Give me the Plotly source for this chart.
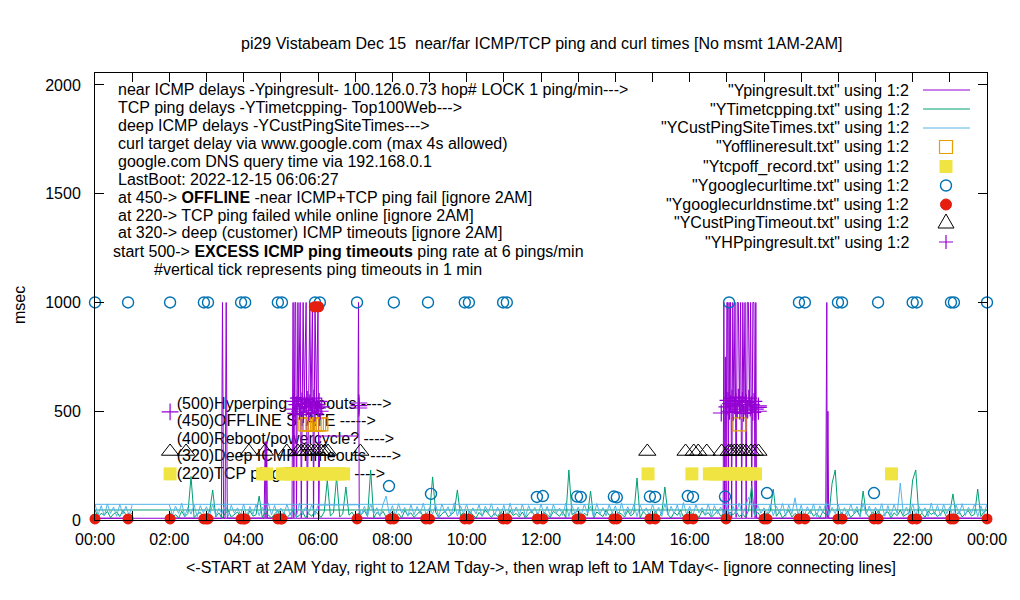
import plotly.graph_objects as go

# --- axis ticks ---
TICK_HOURS = [0, 1, 2, 3, 4, 5, 6, 7, 8, 9, 10, 11, 12, 13, 14, 15, 16, 17, 18, 19, 20, 21, 22, 23, 24]
TICK_TEXT = ["00:00", "", "02:00", "", "04:00", "", "06:00", "", "08:00", "", "10:00", "", "12:00",
             "", "14:00", "", "16:00", "", "18:00", "", "20:00", "", "22:00", "", "00:00"]
Y_TICKS = [0, 500, 1000, 1500, 2000]

# sample clock for the 5-minute series: 2AM Yday -> midnight, then wrap to 0-1AM Tday
SAMPLE_MIN = list(range(120, 1441, 5)) + list(range(0, 61, 5))

# deep ICMP delays (YCustPingSiteTimes), one row per hour, None = no data (reboot)
CUST_MS = (
    [70, 22, 64, 30, 77, 18, 58, 27, 69, 15, 66, 33] +
    [61, 21, 74, 19, 53, 28, 79, 17, 68, 31, 56, 24] +
    [73, 16, 62, 26, 71, 20, 59, 34, 76, 23, 67, 18] +
    [55, 29, 72, 21, 64, 14, 78, 25, 60, 33, 70, 22] +
    [68, None, None, None, None, None, None, None, None, None, None, None] +
    [None, 70, 23, 63, 19, 74, 28, 57, 16, 72, 110, 26] +
    [66, 20, 75, 31, 58, 17, 71, 24, 62, 29, 77, 19] +
    [57, 27, 69, 15, 74, 32, 61, 22, 79, 18, 65, 30] +
    [72, 19, 56, 28, 70, 16, 63, 34, 75, 21, 59, 25] +
    [68, 17, 77, 29, 60, 23, 73, 15, 66, 31, 58, 20] +
    [74, 26, 62, 18, 71, 33, 55, 21, 78, 16, 67, 28] +
    [59, 22, 73, 30, 64, 14, 76, 27, 57, 19, 70, 32] +
    [65, 18, 79, 24, 61, 29, 72, 16, 68, 35, 56, 21] +
    [71, 30, 58, 17, 75, 23, 63, 28, 69, 15, 80, 26] +
    [62, 19, 70, 33, 57, 21, 74, 18, 66, 27, 60, 24] +
    [73, 16, 64, 29, 78, 22, 59, 104, 71, 18, 67, 31] +
    [56, 25, 72, 20, 63, 32, 76, 17, 69, 28, 102, 23] +
    [68, 18, 61, 27, 74, 15, 65, 34, 79, 21, 58, 29] +
    [70, 23, 57, 19, 73, 31, 62, 16, 77, 26, 64, 20] +
    [59, 28, 75, 17, 66, 22, 71, 30, 170, 24, 60, 18] +
    [74, 21, 63, 33, 56, 16, 78, 25, 67, 19, 72, 29] +
    [61, 17, 69, 26, 75, 20, 58, 31, 73, 15, 65, 27] +
    [72] +
    [72, 24, 66, 19, 74, 30, 60, 17, 71, 27, 63, 21, 68]
)

# TCP ping delays (YTimetcpping)
TCP_MS = (
    [38, 12, 25, 9, 41, 15, 30, 200, 11, 27, 35, 10] +
    [22, 40, 138, 14, 33, 8, 29, 44, 13, 26, 37, 16] +
    [31, 10, 42, 18, 24, 110, 12, 36, 20, 9, 28, 43] +
    [15, 34, 11, 27, 45, 13, 21, 39, 10, 30, 17, 41] +
    [26, 12, 37, 184, 19, 33, 198, 14, 28, 152, 22, 36] +
    [11, 30, 25, 43, 16, 230, 9, 35, 21, 40, 13, 27] +
    [38, 14, 29, 10, 44, 22, 33, 12, 26, 41, 17, 31] +
    [20, 198, 36, 11, 28, 42, 15, 24, 39, 138, 20, 34] +
    [13, 40, 23, 9, 35, 18, 45, 27, 12, 32, 16, 38] +
    [26, 10, 43, 21, 30, 14, 37, 8, 29, 41, 19, 33] +
    [15, 36, 24, 12, 40, 28, 17, 39, 11, 230, 25, 34] +
    [42, 13, 31, 20, 133, 9, 37, 26, 16, 44, 22, 30] +
    [11, 35, 27, 14, 43, 19, 32, 193, 10, 38, 24, 29] +
    [17, 41, 12, 33, 152, 25, 9, 36, 21, 45, 14, 30] +
    [39, 16, 28, 11, 42, 23, 34, 13, 26, 44, 18, 31] +
    [10, 37, 24, 40, 15, 29, 12, 43, 156, 20, 35, 13] +
    [32, 22, 41, 142, 17, 38, 9, 27, 44, 14, 30, 19] +
    [36, 12, 25, 43, 18, 31, 10, 39, 23, 28, 170, 230] +
    [15, 34, 21, 40, 11, 27, 44, 16, 133, 30, 13, 37] +
    [24, 42, 14, 29, 38, 10, 33, 20, 45, 17, 26, 35] +
    [184, 230, 19, 31, 12, 41, 25, 36, 15, 28, 43, 11] +
    [33, 120, 22, 39, 14, 30, 42, 18, 27, 142, 16, 37] +
    [46] +
    [46, 14, 31, 22, 40, 11, 28, 37, 16, 43, 25, 19, 34]
)

# near ICMP delays (Ypingresult), 1000 = timeout
PING_H = [2.0, 2.5, 3.0, 3.40, 3.43, 3.46, 3.50, 3.53, 3.56, 4.0,
          4.55, 4.58, 4.60, 4.62, 4.64, 5.0, 5.30, 5.33, 5.35, 5.38,
          5.40, 5.42, 5.46, 5.48, 5.52, 5.55, 5.60, 5.63, 5.68, 5.71,
          5.76, 5.78, 5.81, 5.85, 5.88, 5.92, 5.96, 6.00, 6.02, 6.05,
          7.07, 7.09, 7.11, 7.5, 8.0, 9.0, 10.0, 11.0, 12.0, 13.0,
          14.0, 15.0, 16.0, 16.90, 16.92, 16.94, 16.96, 16.98, 17.00, 17.02,
          17.04, 17.06, 17.08, 17.10, 17.13, 17.16, 17.19, 17.22, 17.25, 17.28,
          17.31, 17.34, 17.37, 17.40, 17.43, 17.46, 17.49, 17.52, 17.55, 17.58,
          17.61, 17.64, 17.67, 17.70, 17.73, 17.76, 17.78, 17.80, 18.0, 19.0,
          19.66, 19.69, 19.70, 19.72, 19.74, 20.0, 21.0, 22.0, 23.0, 24.0,
          0.0, 0.5, 1.0]
PING_MS = [9, 8, 10, 8, 1000, 9, 8, 1000, 9, 8,
           9, 360, 9, 360, 9, 8, 9, 1000, 10, 1000,
           1000, 12, 1000, 520, 1000, 10, 1000, 540, 1000, 10,
           1000, 1000, 500, 1000, 12, 1000, 520, 1000, 10, 386,
           386, 1000, 10, 8, 9, 8, 9, 8, 9, 8,
           9, 8, 9, 9, 1000, 10, 750, 10, 1000, 1000,
           15, 1000, 520, 1000, 10, 1000, 530, 1000, 12, 1000,
           1000, 500, 1000, 10, 1000, 540, 1000, 10, 1000, 1000,
           520, 1000, 12, 1000, 1000, 10, 1000, 9, 8, 9,
           9, 1000, 10, 500, 9, 8, 9, 8, 9, 8,
           8, 9, 8]

# offline state (Yofflineresult)
OFFLINE_H = [5.66, 5.72, 5.78, 5.85, 5.91, 5.97, 6.03, 6.09, 17.34]
OFFLINE_MS = [440, 440, 440, 440, 440, 440, 440, 440, 440]

# TCP ping failed while online (Ytcpoff_record)
TCPOFF_H = [2.02, 4.51, 4.62, 5.04, 5.15, 5.26, 5.37, 5.48, 5.59, 5.70, 5.81, 5.92, 6.03, 6.14,
            6.25, 6.36, 6.47, 6.58, 6.69, 14.88, 16.06, 16.53, 16.64, 16.75, 16.86, 16.97,
            17.08, 17.19, 17.30, 17.41, 17.52, 17.63, 17.77, 21.43]
TCPOFF_MS = [212] * len(TCPOFF_H)

# curl delay via www.google.com (Ygooglecurltime)
CURL_H = [0.0, 0.89, 2.02, 2.93, 3.04, 3.93, 4.04, 4.92, 5.03, 5.92, 6.05, 7.05, 7.91, 8.04,
          8.96, 9.04, 9.95, 10.06, 10.98, 11.08, 11.89, 12.05, 12.97, 13.07, 13.96, 14.04,
          14.93, 15.07, 15.95, 16.09, 16.95, 17.06, 18.08, 18.94, 19.10, 19.99, 20.10, 20.96,
          21.07, 22.00, 22.11, 23.03, 23.11, 24.0]
CURL_MS = [1000, 1000, 1000, 1000, 1000, 1000, 1000, 1000, 1000, 1000, 1000, 1000, 156, 1000,
           1000, 120, 1000, 1000, 1000, 1000, 106, 110, 108, 106, 108, 104, 108, 106, 110, 106,
           108, 1000, 124, 1000, 1000, 1000, 1000, 124, 1000, 1000, 1000, 1000, 1000, 1000]

# google.com DNS query time (Ygooglecurldnstime)
DNS_H = [0.0, 0.89, 2.02, 2.93, 3.0, 3.04, 3.93, 4.0, 4.04, 4.92, 5.0, 5.03, 5.90, 5.96, 6.02,
         7.05, 7.95, 8.04, 8.90, 9.0, 9.95, 10.06, 10.98, 11.08, 11.90, 12.05, 12.97, 13.07,
         13.96, 14.04, 14.93, 15.07, 15.95, 16.09, 16.98, 18.0, 18.08, 18.94, 19.10, 19.99,
         20.10, 20.96, 21.07, 22.00, 22.11, 23.03, 23.11, 24.0]
DNS_MS = [5, 5, 5, 5, 5, 5, 5, 5, 5, 5, 5, 5, 980, 980, 980,
          5, 5, 5, 5, 5, 5, 5, 5, 5, 5, 5, 5, 5,
          5, 5, 5, 5, 5, 5, 5, 5, 5, 5, 5, 5,
          5, 5, 5, 5, 5, 5, 5, 5]

# deep (customer) ICMP timeouts (YCustPingTimeout)
CUSTTO_H = [2.02, 2.45, 4.14, 4.57, 5.16, 5.46, 5.55, 5.64, 5.73, 5.82, 5.91, 6.0, 6.09, 6.18, 6.27,
            7.14, 14.86, 15.89, 16.11, 16.23, 16.46, 16.86, 17.05, 17.12, 17.20, 17.28, 17.36,
            17.44, 17.52, 17.65, 17.75, 17.85]
CUSTTO_MS = [315] * len(CUSTTO_H)

# hyperping timeouts (YHPpingresult)
HP_H = [2.02, 5.33, 5.36, 5.40, 5.43, 5.47, 5.50, 5.54, 5.57, 5.61, 5.64, 5.68, 5.71, 5.75, 5.78,
        5.82, 5.85, 5.89, 5.92, 5.96, 5.99, 6.03, 6.06, 6.10, 7.10, 7.10, 7.10,
        16.85, 17.00, 17.03, 17.07, 17.10, 17.14, 17.17, 17.21, 17.24, 17.28, 17.31, 17.35,
        17.38, 17.42, 17.45, 17.49, 17.52, 17.56, 17.59, 17.63, 17.66, 17.70, 17.73, 17.77,
        17.85, 17.85, 17.85]
HP_MS = [497, 510, 545, 490, 530, 560, 500, 520, 548, 485, 535, 515, 555, 495, 540,
         505, 525, 560, 490, 530, 515, 545, 500, 520, 515, 526, 538,
         492, 520, 550, 500, 535, 560, 495, 525, 545, 510, 565, 500, 530,
         550, 490, 520, 540, 505, 560, 515, 530, 495, 545, 510, 525,
         500, 518, 535]

# labels inside the plot
MARK_LABELS = ["(500)Hyperping Timeouts ---->", "(450)OFFLINE STATE ----->",
               "(400)Reboot/powercycle? ---->", "(320)Deep ICMP Timeouts ---->",
               "(220)TCP ping Timeouts ---->"]
MARK_LABEL_MS = [530, 452, 368, 288, 207]

INFO_LINES = ["near ICMP delays -Ypingresult- 100.126.0.73 hop# LOCK 1 ping/min--->",
              "TCP ping delays -YTimetcpping- Top100Web--->",
              "deep ICMP delays -YCustPingSiteTimes--->",
              "curl target delay via www.google.com (max 4s allowed)",
              "google.com DNS query time via 192.168.0.1",
              "LastBoot: 2022-12-15 06:06:27",
              "at 450-> <b>OFFLINE</b> -near ICMP+TCP ping fail [ignore 2AM]",
              "at 220-> TCP ping failed while online [ignore 2AM]",
              "at 320-> deep (customer) ICMP timeouts [ignore 2AM]",
              "start 500-> <b>EXCESS ICMP ping timeouts</b> ping rate at 6 pings/min",
              "#vertical tick represents ping timeouts in 1 min"]

KEY_NAMES = ['"Ypingresult.txt" using 1:2', '"YTimetcpping.txt" using 1:2',
             '"YCustPingSiteTimes.txt" using 1:2', '"Yofflineresult.txt" using 1:2',
             '"Ytcpoff_record.txt" using 1:2', '"Ygooglecurltime.txt" using 1:2',
             '"Ygooglecurldnstime.txt" using 1:2', '"YCustPingTimeout.txt" using 1:2',
             '"YHPpingresult.txt" using 1:2']

PURPLE = '#9400D3'
GREEN = '#009E73'
CYAN = '#56B4E9'
ORANGE = '#E69F00'
YELLOW = '#F0E442'
BLUE = '#0072B2'
RED = '#E51E10'
FONT = 'Liberation Sans, Arial, sans-serif'
FS = 16

sample_h = [m / 60 for m in SAMPLE_MIN]

fig = go.Figure()

# in-plot labels sit behind the markers
fig.add_trace(go.Scatter(x=[2.2] * len(MARK_LABELS), y=MARK_LABEL_MS, mode='text', text=MARK_LABELS,
                         textposition='middle right', textfont=dict(size=FS, color='black', family=FONT)))

fig.add_trace(go.Scatter(x=PING_H, y=PING_MS, mode='lines', line=dict(color=PURPLE, width=1)))
fig.add_trace(go.Scatter(x=sample_h, y=TCP_MS, mode='lines', line=dict(color=GREEN, width=1), connectgaps=True))
fig.add_trace(go.Scatter(x=sample_h, y=CUST_MS, mode='lines', line=dict(color=CYAN, width=1), connectgaps=True))
fig.add_trace(go.Scatter(x=OFFLINE_H, y=OFFLINE_MS, mode='markers', cliponaxis=False,
                         marker=dict(symbol='square-open', size=13, color=ORANGE, line=dict(width=1.2))))
fig.add_trace(go.Scatter(x=TCPOFF_H, y=TCPOFF_MS, mode='markers', cliponaxis=False,
                         marker=dict(symbol='square', size=13, color=YELLOW, line=dict(width=0))))
fig.add_trace(go.Scatter(x=CURL_H, y=CURL_MS, mode='markers', cliponaxis=False,
                         marker=dict(symbol='circle-open', size=11, color=BLUE, line=dict(width=1.4))))
fig.add_trace(go.Scatter(x=DNS_H, y=DNS_MS, mode='markers', cliponaxis=False,
                         marker=dict(symbol='circle', size=11, color=RED, line=dict(width=0))))
fig.add_trace(go.Scatter(x=CUSTTO_H, y=CUSTTO_MS, mode='markers', cliponaxis=False,
                         marker=dict(symbol='triangle-up-open', size=15, color='black', line=dict(width=1))))
fig.add_trace(go.Scatter(x=HP_H, y=HP_MS, mode='markers', cliponaxis=False,
                         marker=dict(symbol='cross-thin-open', size=12, color=PURPLE, line=dict(width=1.2))))

annotations = []
# title / axis titles
annotations.append(dict(text='pi29 Vistabeam Dec 15\u00a0 near/far ICMP/TCP ping and curl times [No msmt 1AM-2AM]',
                        x=0.5, y=(520 - 44) / 447, xref='paper', yref='paper', yanchor='middle',
                        showarrow=False, font=dict(size=FS, family=FONT, color='black')))
annotations.append(dict(text='&lt;-START at 2AM Yday, right to 12AM Tday->, then wrap left to 1AM Tday&lt;- [ignore connecting lines]',
                        x=0.5, y=(520 - 567) / 447, xref='paper', yref='paper', yanchor='middle',
                        showarrow=False, font=dict(size=FS, family=FONT, color='black')))
annotations.append(dict(text='msec', x=(19 - 95) / 892, y=(520 - 305) / 447, xref='paper', yref='paper',
                        xanchor='center', yanchor='middle', showarrow=False, textangle=-90,
                        font=dict(size=FS, family=FONT, color='black')))

# info block, top left
info_x = [116, 116, 116, 116, 116, 116, 116, 116, 116, 111, 152]
for i, line in enumerate(INFO_LINES):
    annotations.append(dict(text=line, x=(info_x[i] - 95) / 892, y=(520 - (89 + 18 * i)) / 447,
                            xref='paper', yref='paper', xanchor='left', yanchor='middle', showarrow=False,
                            font=dict(size=FS, family=FONT, color='black')))

# key, top right
key_y = [90, 109, 128, 147, 166.5, 185.5, 204.5, 223, 242]
for name, py in zip(KEY_NAMES, key_y):
    annotations.append(dict(text=name, x=(911 - 95) / 892, y=(520 - py) / 447, xref='paper', yref='paper',
                            xanchor='right', yanchor='middle', showarrow=False,
                            font=dict(size=FS, family=FONT, color='black')))

shapes = []
kx0, kx1, kxm = (923 - 95) / 892, (970 - 95) / 892, (946 - 95) / 892
for col, py in zip([PURPLE, GREEN, CYAN], key_y[:3]):
    yy = (520 - py) / 447
    shapes.append(dict(type='line', xref='paper', yref='paper', x0=kx0, x1=kx1, y0=yy, y1=yy,
                       line=dict(color=col, width=1)))


def key_mark(py, **kw):
    d = dict(xref='paper', yref='paper', xsizemode='pixel', ysizemode='pixel',
             xanchor=kxm, yanchor=(520 - py) / 447)
    d.update(kw)
    shapes.append(d)


key_mark(key_y[3], type='rect', x0=-6.5, x1=6.5, y0=-6.5, y1=6.5, line=dict(color=ORANGE, width=1.2))
key_mark(key_y[4], type='rect', x0=-6.5, x1=6.5, y0=-6.5, y1=6.5, fillcolor=YELLOW, line=dict(width=0))
key_mark(key_y[5], type='circle', x0=-5.5, x1=5.5, y0=-5.5, y1=5.5, line=dict(color=BLUE, width=1.4))
key_mark(key_y[6], type='circle', x0=-5.5, x1=5.5, y0=-5.5, y1=5.5, fillcolor=RED, line=dict(color=RED, width=1))
key_mark(key_y[7], type='path', path='M-8,-5 L8,-5 L0,9 Z', line=dict(color='black', width=1))
key_mark(key_y[8], type='path', path='M-7,0 L7,0 M0,-7 L0,7', line=dict(color=PURPLE, width=1.2))

# page body has an 8px margin, so the figure is 8px smaller and margins shifted
fig.update_layout(
    width=1012, height=592,
    margin=dict(l=87, r=33, t=65, b=80, autoexpand=False),
    plot_bgcolor='white', paper_bgcolor='white',
    showlegend=False,
    font=dict(family=FONT, size=FS, color='black'),
    annotations=annotations,
    shapes=shapes,
    xaxis=dict(range=[0, 24], tickvals=TICK_HOURS, ticktext=TICK_TEXT, ticks='inside', ticklen=9,
               tickcolor='black', showline=True, linecolor='black', linewidth=1, mirror='allticks',
               showgrid=False, zeroline=False, ticklabelstandoff=5, tickfont=dict(size=FS)),
    yaxis=dict(range=[0, 2055], tickvals=Y_TICKS, ticks='inside', ticklen=9, tickcolor='black',
               showline=True, linecolor='black', linewidth=1, mirror='allticks', showgrid=False,
               zeroline=False, ticklabelstandoff=10, tickfont=dict(size=FS)),
)

fig.write_html("out.html")
